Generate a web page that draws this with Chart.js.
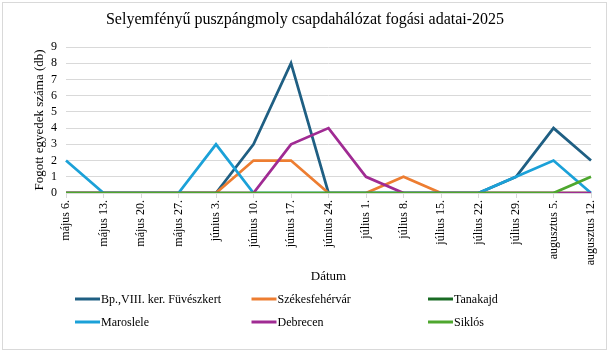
<!DOCTYPE html>
<html>
<head>
<meta charset="utf-8">
<script src="https://cdn.jsdelivr.net/npm/chart.js@4/dist/chart.umd.min.js"></script>
<style>
  html, body { margin: 0; padding: 0; background: #fff; }
  #wrap { width: 609px; height: 352px; position: relative; }
</style>
</head>
<body>
<div id="wrap"><canvas id="chart"></canvas></div>
<script>
// Adatok
const dates = ['május 6.', 'május 13.', 'május 20.', 'május 27.', 'június 3.', 'június 10.', 'június 17.',
    'június 24.', 'július 1.', 'július 8.', 'július 15.', 'július 22.', 'július 29.', 'augusztus 5.', 'augusztus 12.'];
const seriesNames = ['Bp.,VIII. ker. Füvészkert', 'Székesfehérvár', 'Tanakajd', 'Maroslele', 'Debrecen', 'Siklós'];
const bpValues = [0, 0, 0, 0, 0, 3, 8, 0, 0, 0, 0, 0, 1, 4, 2];
const szekesfehervarValues = [0, 0, 0, 0, 0, 2, 2, 0, 0, 1, 0, 0, 0, 0, 0];
const tanakajdValues = [0, 0, 0, 0, 0, 0, 0, 0, 0, 0, 0, 0, 0, 0, 0];
const maroslelValues = [2, 0, 0, 0, 3, 0, 0, 0, 0, 0, 0, 0, 1, 2, 0];
const debrecenValues = [0, 0, 0, 0, 0, 0, 3, 4, 1, 0, 0, 0, 0, 0, 0];
const siklosValues = [0, 0, 0, 0, 0, 0, 0, 0, 0, 0, 0, 0, 0, 0, 1];
const yTicks = [0, 1, 2, 3, 4, 5, 6, 7, 8, 9];

const colors = ['#1f5f83', '#ed7d31', '#196b24', '#1ba1d8', '#a02b93', '#4ea72e'];
const allValues = [bpValues, szekesfehervarValues, tanakajdValues, maroslelValues, debrecenValues, siklosValues];
const serif = 'Liberation Serif, Times New Roman, serif';

// cím, keret és jelmagyarázat rajzolása
const decorPlugin = {
    id: 'decor',
    afterDraw(chart) {
        const ctx = chart.ctx;
        ctx.save();
        ctx.strokeStyle = '#d9d9d9';
        ctx.lineWidth = 1;
        ctx.strokeRect(2.5, 2.5, 604, 347);

        ctx.fillStyle = '#000';
        ctx.font = '16px ' + serif;
        ctx.textAlign = 'center';
        ctx.textBaseline = 'middle';
        ctx.fillText('Selyemfényű puszpángmoly csapdahálózat fogási adatai-2025', 305, 20);

        ctx.font = '12px ' + serif;
        ctx.textAlign = 'left';
        chart.data.datasets.forEach((ds, i) => {
            const x = 75 + (i % 3) * 176.5;
            const y = 299 + Math.floor(i / 3) * 23;
            ctx.strokeStyle = ds.borderColor;
            ctx.lineWidth = 3;
            ctx.beginPath();
            ctx.moveTo(x, y);
            ctx.lineTo(x + 25, y);
            ctx.stroke();
            ctx.fillStyle = '#000';
            ctx.fillText(ds.label, x + 26, y + 1);
        });
        ctx.restore();
    }
};

const datasets = seriesNames.map((name, i) => ({
    label: name,
    data: allValues[i],
    borderColor: colors[i],
    backgroundColor: colors[i],
    borderWidth: 2.75,
    pointRadius: 0,
    tension: 0,
    order: seriesNames.length - i
}));

new Chart(document.getElementById('chart').getContext('2d'), {
    type: 'line',
    data: { labels: dates, datasets: datasets },
    options: {
        responsive: true,
        maintainAspectRatio: false,
        animation: false,
        layout: { padding: { left: 0, right: 18, top: 47, bottom: 68 } },
        plugins: {
            legend: { display: false },
            title: { display: false },
            tooltip: { enabled: false }
        },
        scales: {
            x: {
                offset: false,
                grid: { drawOnChartArea: false, drawTicks: true, tickLength: 5, color: '#d9d9d9' },
                border: { display: true, color: '#d9d9d9' },
                ticks: { autoSkip: false, maxRotation: 90, minRotation: 90, padding: 2, color: '#000', font: { family: serif, size: 12 } },
                title: { display: true, text: 'Dátum', color: '#000', font: { family: serif, size: 13 }, padding: { top: 0, bottom: 0 } },
                afterFit: s => { s.height = 91; }
            },
            y: {
                min: 0,
                max: 9,
                afterBuildTicks: s => { s.ticks = yTicks.map(v => ({ value: v })); },
                grid: { color: '#d9d9d9', drawTicks: false },
                border: { display: false },
                ticks: { autoSkip: false, padding: 9, color: '#000', font: { family: serif, size: 12 } },
                title: { display: true, text: 'Fogott egyedek száma (db)', color: '#000', font: { family: serif, size: 13 }, padding: { top: 32, bottom: 0 } },
                afterFit: s => { s.width = 66; }
            }
        }
    },
    plugins: [decorPlugin]
});
</script>
</body>
</html>
